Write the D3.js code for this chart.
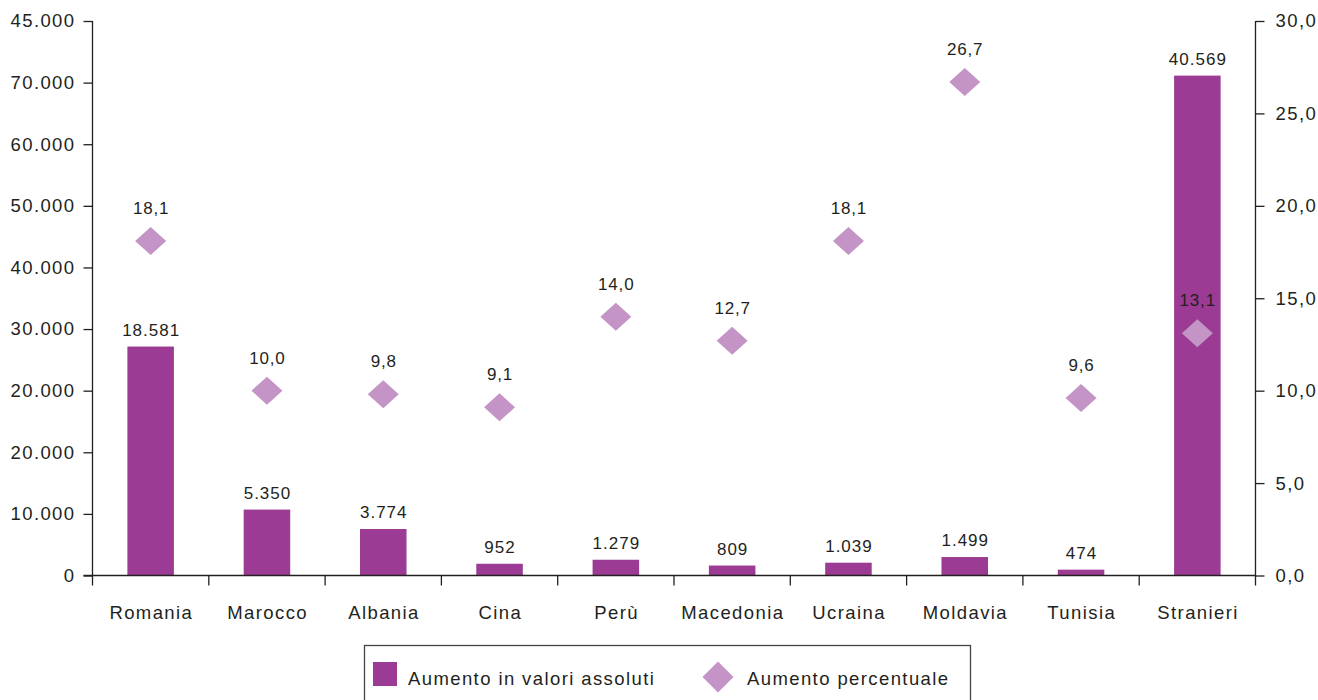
<!DOCTYPE html>
<html><head><meta charset="utf-8">
<script src="https://cdn.jsdelivr.net/npm/d3@7"></script>
<style>body{margin:0;background:#fff}svg{display:block}text{font-family:"Liberation Sans",Arial,Helvetica,sans-serif;fill:#231f20}</style>
</head><body><svg id="c" width="1318" height="700"></svg>
<script>
const categories = ["Romania","Marocco","Albania","Cina","Perù","Macedonia","Ucraina","Moldavia","Tunisia","Stranieri"];
const absValues = [18581,5350,3774,952,1279,809,1039,1499,474,40569];
const pctValues = [18.1,10.0,9.8,9.1,14.0,12.7,18.1,26.7,9.6,13.1];
const leftTickValues = [0,5000,10000,15000,20000,25000,30000,35000,40000,45000];
const leftTickLabels = ["0","10.000","20.000","20.000","30.000","40.000","50.000","60.000","70.000","45.000"];
const rightTickValues = [0,5,10,15,20,25,30];
const seriesNames = ["Aumento in valori assoluti","Aumento percentuale"];

const barColor = "#9b3b93", diaColor = "#c394c5", ink = "#231f20";
const it = d3.formatLocale({decimal:",",thousands:".",grouping:[3],currency:["€",""]});
const fInt = it.format(",d"), f1 = it.format(".1f");

const svg = d3.select("#c");
const L = 92.5, R = 1255.5, T = 21, B = 575.5;
const x = d3.scaleBand().domain(categories).range([L, R]).paddingInner(0.6).paddingOuter(0.3);
const yL = d3.scaleLinear().domain([0,45000]).range([B, T]);
const yR = d3.scaleLinear().domain([0,30]).range([B, T]);

// bars
svg.append("g").selectAll("rect").data(categories).join("rect")
  .attr("x", d => x(d)).attr("width", x.bandwidth())
  .attr("y", (d,i) => yL(absValues[i])).attr("height", (d,i) => B - yL(absValues[i]))
  .attr("fill", barColor);

// axes
const gL = svg.append("g").attr("transform", `translate(${L},0)`)
  .call(d3.axisLeft(yL).tickValues(leftTickValues).tickFormat((d,i) => leftTickLabels[i]).tickSize(9).tickPadding(8));
const gR = svg.append("g").attr("transform", `translate(${R},0)`)
  .call(d3.axisRight(yR).tickValues(rightTickValues).tickFormat(f1).tickSize(9).tickPadding(11));
[gL, gR].forEach(g => {
  g.select(".domain").remove();
  g.selectAll("line").attr("stroke", ink).attr("stroke-width", 1.3);
  g.selectAll("text").style("font-size", "18.5px").style("letter-spacing", "1.4px").attr("fill", ink);
});
gL.append("line").attr("y1", T).attr("y2", B + 10).attr("stroke", ink).attr("stroke-width", 1.3);
gR.append("line").attr("y1", T).attr("y2", B + 10).attr("stroke", ink).attr("stroke-width", 1.3);

// baseline and category ticks
svg.append("line").attr("x1", L - 9).attr("x2", R).attr("y1", B).attr("y2", B).attr("stroke", ink).attr("stroke-width", 1.3);
const step = x.step();
svg.append("g").selectAll("line").data(categories.slice(1)).join("line")
  .attr("x1", d => x(d) - (step - x.bandwidth())/2).attr("x2", d => x(d) - (step - x.bandwidth())/2)
  .attr("y1", B).attr("y2", B + 10).attr("stroke", ink).attr("stroke-width", 1.3);

// category labels
svg.append("g").selectAll("text").data(categories).join("text")
  .attr("x", d => x(d) + x.bandwidth()/2 + 0.7).attr("y", 619).attr("text-anchor", "middle")
  .style("font-size", "18.5px").style("letter-spacing", "1.4px").text(d => d);

// bar value labels
svg.append("g").selectAll("text").data(categories).join("text")
  .attr("x", d => x(d) + x.bandwidth()/2 + 0.5).attr("y", (d,i) => yL(absValues[i]) - 11)
  .attr("text-anchor", "middle").style("font-size", "17px").style("letter-spacing", "1px").text((d,i) => fInt(absValues[i]));

// diamonds
const hw = 15.5, hh = 14;
const diamond = (cx, cy, w, h) => `M${cx},${cy-h}L${cx+w},${cy}L${cx},${cy+h}L${cx-w},${cy}Z`;
svg.append("g").selectAll("path").data(categories).join("path")
  .attr("d", (d,i) => diamond(x(d) + x.bandwidth()/2, yR(pctValues[i]), hw, hh))
  .attr("fill", diaColor);
svg.append("g").selectAll("text").data(categories).join("text")
  .attr("x", d => x(d) + x.bandwidth()/2 + 0.4).attr("y", (d,i) => yR(pctValues[i]) - 27)
  .attr("text-anchor", "middle").style("font-size", "17px").style("letter-spacing", "0.8px").text((d,i) => f1(pctValues[i]));

// legend
const lg = svg.append("g");
lg.append("rect").attr("x", 364.5).attr("y", 645.5).attr("width", 606).attr("height", 70)
  .attr("fill", "none").attr("stroke", "#444").attr("stroke-width", 1.3);
lg.append("rect").attr("x", 373).attr("y", 662).attr("width", 24).attr("height", 24).attr("fill", barColor);
lg.append("text").attr("x", 408).attr("y", 685).style("font-size", "18.5px").style("letter-spacing", "1.4px").text(seriesNames[0]);
lg.append("path").attr("d", diamond(718, 677, 15.5, 15.5)).attr("fill", diaColor);
lg.append("text").attr("x", 747).attr("y", 685).style("font-size", "18.5px").style("letter-spacing", "1.4px").text(seriesNames[1]);
</script></body></html>
